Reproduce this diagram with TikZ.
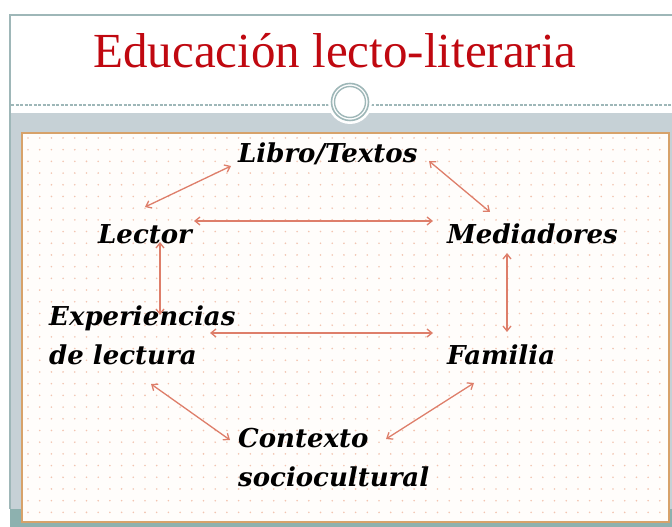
\documentclass[tikz,border=0pt]{standalone}
\usepackage{fontspec}
\usepackage{xcolor}
\usepackage{tikz}
\usetikzlibrary{arrows.meta,positioning,calc}
\newfontfamily\titlefont{Liberation Serif}
\newfontfamily\labelfont{DejaVu Serif}
\definecolor{titlered}{RGB}{192,8,16}
\definecolor{frameline}{RGB}{158,183,184}
\definecolor{bandgray}{RGB}{198,209,214}
\definecolor{bandteal}{RGB}{141,177,175}
\definecolor{boxedge}{RGB}{215,162,106}
\definecolor{boxfill}{RGB}{255,253,251}
\definecolor{dotcol}{RGB}{242,196,176}
\definecolor{arrcol}{RGB}{222,126,106}

\begin{document}
\begin{tikzpicture}[x=1pt,y=1pt,
  concept/.style={inner sep=0pt,anchor=base west,align=left,
                  font=\labelfont\bfseries\itshape\fontsize{26}{39.5}\selectfont},
  arr/.style={{Straight Barb[length=5pt,width=8pt]}-{Straight Barb[length=5pt,width=8pt]},
              arrcol,line width=1.3pt}
]
\useasboundingbox (0,0) rectangle (672,527);
\fill[white] (0,0) rectangle (672,527);
% Slide background
\fill[bandteal] (10,0) rectangle (672,18);
\fill[bandgray] (10,18) rectangle (672,414);
\draw[frameline,line width=1.5pt] (10,18) -- (10,512) -- (672,512);
\fill[bandteal] (22,0) rectangle (672,6);
\draw[frameline,line width=1.2pt,dash pattern=on 3pt off 1.5pt] (11,422) -- (672,422);
% Ring on the divider
\fill[white] (350,425) circle (22);
\draw[frameline,line width=1.6pt] (350,425) circle (18.5);
\draw[frameline,line width=1.4pt] (350,425) circle (15.5);
% Title
\node[font=\titlefont\fontsize{49}{52}\selectfont,titlered,anchor=base,inner sep=0pt]
  (title) at (335,459) {Educación lecto-literaria};
% Content box
\fill[boxfill] (22,5) rectangle (669,394);
\foreach \i in {0,...,54}
  \foreach \j in {0,...,32}
    \fill[dotcol] (28+11.7*\i,389-11.7*\j) circle (0.9);
\draw[boxedge,line width=1.6pt] (22,5) rectangle (669,394);
% Concepts
\node[concept] (libro) at (238,364) {Libro/Textos};
\node[concept] (lector) at (98,283) {Lector};
\node[concept] (mediad) at (447,283) {Mediadores};
\node[concept] (exper) at (49,162) {Experiencias\\de lectura};
\node[concept] (familia) at (447,162) {Familia};
\node[concept] (contexto) at (238,40) {Contexto\\sociocultural};
% Relations
\draw[arr] ($(libro.base west)+(-7,-3)$) -- ($(lector.base west)+(47,37)$);
\draw[arr] ($(lector.base west)+(96,23)$) -- ($(mediad.base west)+(-14,23)$);
\draw[arr] ($(libro.base west)+(191,2)$) -- ($(mediad.base west)+(43,32)$);
\draw[arr] ($(lector.base west)+(62,2)$) -- ($(exper.base west)+(111,50)$);
\draw[arr] ($(mediad.base west)+(60,-9)$) -- ($(familia.base west)+(60,33)$);
\draw[arr] ($(exper.base west)+(161,32)$) -- ($(familia.base west)+(-14,32)$);
\draw[arr] ($(exper.base west)+(102,-19)$) -- ($(contexto.base west)+(-8,47)$);
\draw[arr] ($(familia.base west)+(27,-18)$) -- ($(contexto.base west)+(148,48)$);
\end{tikzpicture}
\end{document}
